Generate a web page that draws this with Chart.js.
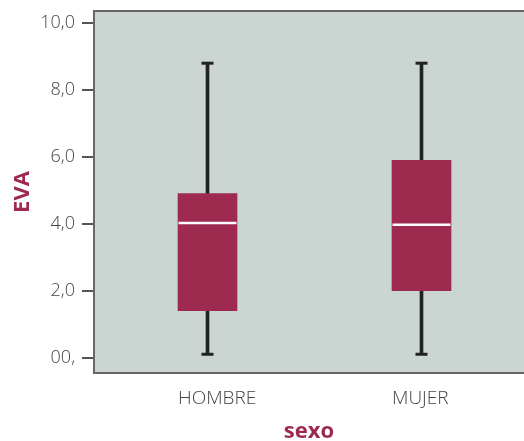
<!DOCTYPE html>
<html>
<head>
<meta charset="utf-8">
<title>EVA por sexo</title>
<script src="https://cdn.jsdelivr.net/npm/chart.js@4/dist/chart.umd.min.js"></script>
<style>
  html, body { margin: 0; padding: 0; background: #ffffff; }
  #wrap { width: 524px; height: 441px; }
</style>
</head>
<body>
<div id="wrap"><canvas id="chart" width="524" height="441"></canvas></div>
<script>
// Box-and-whisker summary of EVA by sex
const categories = ['HOMBRE', 'MUJER'];
const whiskerLow = [0.1, 0.1];
const q1 = [1.4, 2.0];
const median = [4.02, 3.97];
const q3 = [4.9, 5.9];
const whiskerHigh = [8.8, 8.8];

const yTickValues = [0, 2, 4, 6, 8, 10];
const yTickLabels = ['00,', '2,0', '4,0', '6,0', '8,0', '10,0'];

const BOX = '#9e2a50';
const INK = '#222222';
const FRAME = '#666666';
const LABEL = '#444444';

const pos = categories.map((c, i) => i + 1);

const whiskerData = pos.map((x, i) => ({ x, y: [whiskerLow[i], whiskerHigh[i]] }));
const boxData = pos.map((x, i) => ({ x, y: [q1[i], q3[i]] }));
const capData = pos.flatMap((x, i) => [{ x, y: whiskerLow[i] }, { x, y: whiskerHigh[i] }]);
const medianData = pos.map((x, i) => ({ x, y: median[i] }));

// Grey plot panel with a top rule
const panel = {
  id: 'panel',
  beforeDraw(chart) {
    const { ctx, chartArea: a } = chart;
    ctx.save();
    ctx.fillStyle = '#cbd5d1';
    ctx.fillRect(a.left, a.top, a.right - a.left, a.bottom - a.top);
    ctx.strokeStyle = FRAME;
    ctx.lineWidth = 2;
    ctx.beginPath();
    ctx.moveTo(a.left, a.top);
    ctx.lineTo(a.right, a.top);
    ctx.stroke();
    ctx.restore();
  }
};

// Keep the plot panel where the axes are placed, without edge padding for labels
function noEdgePadding(scale) {
  scale.paddingTop = 0;
  scale.paddingBottom = 0;
  scale.paddingLeft = 0;
  scale.paddingRight = 0;
}

new Chart(document.getElementById('chart'), {
  type: 'bar',
  data: {
    datasets: [
      {
        type: 'bar',
        data: whiskerData,
        backgroundColor: INK,
        barThickness: 3,
        grouped: false,
        order: 3
      },
      {
        type: 'bar',
        data: boxData,
        backgroundColor: BOX,
        barThickness: 59,
        grouped: false,
        order: 2
      },
      {
        type: 'line',
        data: capData,
        showLine: false,
        pointStyle: 'line',
        pointRadius: 6,
        pointHoverRadius: 6,
        pointBorderWidth: 3,
        pointBorderColor: INK,
        order: 1
      },
      {
        type: 'line',
        data: medianData,
        showLine: false,
        pointStyle: 'line',
        pointRadius: 29,
        pointHoverRadius: 29,
        pointBorderWidth: 2.5,
        pointBorderColor: '#ffffff',
        order: 0
      }
    ]
  },
  options: {
    responsive: false,
    animation: false,
    devicePixelRatio: 1,
    layout: { autoPadding: false, padding: { top: 11, left: 0, right: 0, bottom: 0 } },
    plugins: { legend: { display: false }, tooltip: { enabled: false } },
    scales: {
      x: {
        type: 'linear',
        offset: false,
        min: 0.4696,
        max: 2.479,
        grid: { display: false },
        border: { display: true, color: FRAME, width: 2 },
        afterBuildTicks(scale) { scale.ticks = pos.map(v => ({ value: v })); },
        afterFit(scale) { scale.height = 68; noEdgePadding(scale); },
        ticks: {
          align: 'start',
          labelOffset: -29.5,
          padding: 6,
          color: LABEL,
          font: { family: 'Open Sans', size: 19, weight: 300 },
          callback: (v, i) => categories[i]
        },
        title: {
          display: true,
          text: 'sexo',
          color: BOX,
          font: { family: 'Open Sans', size: 22, weight: 'bold' },
          padding: { top: 0, bottom: -4 }
        }
      },
      y: {
        type: 'linear',
        min: -0.46,
        max: 10.36,
        grid: { display: true, drawOnChartArea: false, drawTicks: true, tickLength: 12, color: '#555555', lineWidth: 2 },
        border: { display: true, color: FRAME, width: 2 },
        afterBuildTicks(scale) { scale.ticks = yTickValues.map(v => ({ value: v })); },
        afterFit(scale) { scale.width = 94; noEdgePadding(scale); },
        ticks: {
          padding: 7,
          color: LABEL,
          font: { family: 'Open Sans', size: 18, weight: 300 },
          callback: (v, i) => yTickLabels[i]
        },
        title: {
          display: true,
          text: 'EVA',
          color: BOX,
          font: { family: 'Open Sans', size: 22, weight: 'bold' },
          padding: { top: 10, bottom: 0 }
        }
      }
    }
  },
  plugins: [panel]
});
</script>
</body>
</html>
